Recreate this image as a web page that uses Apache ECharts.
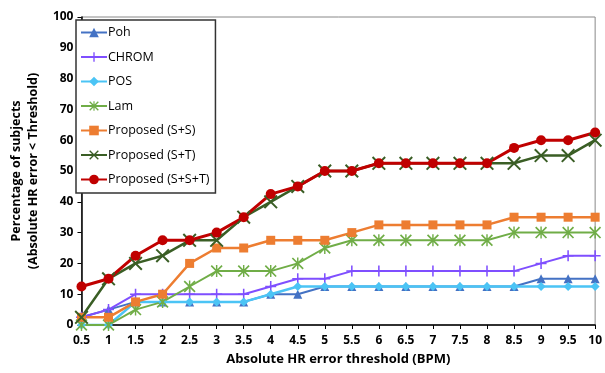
<!DOCTYPE html>
<html>
<head>
<meta charset="utf-8">
<script src="https://cdn.jsdelivr.net/npm/echarts@6/dist/echarts.min.js"></script>
<style>
  html, body { margin: 0; padding: 0; background: #fff; }
  #chart { width: 605px; height: 373px; }
</style>
</head>
<body>
<div id="chart"></div>
<script>
// thresholds (BPM)
const thresholds = ['0.5', '1', '1.5', '2', '2.5', '3', '3.5', '4', '4.5', '5',
  '5.5', '6', '6.5', '7', '7.5', '8', '8.5', '9', '9.5', '10'];

// percentage of subjects per method
const poh = [2.5, 5, 7.5, 7.5, 7.5, 7.5, 7.5, 10, 10, 12.5, 12.5, 12.5, 12.5, 12.5, 12.5, 12.5, 12.5, 15, 15, 15];
const chrom = [2.5, 5, 10, 10, 10, 10, 10, 12.5, 15, 15, 17.5, 17.5, 17.5, 17.5, 17.5, 17.5, 17.5, 20, 22.5, 22.5];
const pos = [0, 0, 7.5, 7.5, 7.5, 7.5, 7.5, 10, 12.5, 12.5, 12.5, 12.5, 12.5, 12.5, 12.5, 12.5, 12.5, 12.5, 12.5, 12.5];
const lam = [0, 0, 5, 7.5, 12.5, 17.5, 17.5, 17.5, 20, 25, 27.5, 27.5, 27.5, 27.5, 27.5, 27.5, 30, 30, 30, 30];
const propSS = [2.5, 2.5, 7.5, 10, 20, 25, 25, 27.5, 27.5, 27.5, 30, 32.5, 32.5, 32.5, 32.5, 32.5, 35, 35, 35, 35];
const propST = [2.5, 15, 20, 22.5, 27.5, 27.5, 35, 40, 45, 50, 50, 52.5, 52.5, 52.5, 52.5, 52.5, 52.5, 55, 55, 60];
const propSST = [12.5, 15, 22.5, 27.5, 27.5, 30, 35, 42.5, 45, 50, 50, 52.5, 52.5, 52.5, 52.5, 52.5, 57.5, 60, 60, 62.5];

// marker shapes drawn as filled thin bars
const plusPath = 'path://M4.3,0H5.7V10H4.3Z M0,4.3H10V5.7H0Z';
const crossPath = 'path://M0,1L1,0L10,9L9,10Z M9,0L10,1L1,10L0,9Z';
const starPath = 'path://M4.4,0H5.6V10H4.4Z M0,1L1,0L10,9L9,10Z M9,0L10,1L1,10L0,9Z';

const font = 'Open Sans, Liberation Sans, sans-serif';

function mkSeries(name, data, color, symbol, size, width) {
  return {
    name: name,
    type: 'line',
    data: data,
    symbol: symbol,
    symbolSize: size,
    showAllSymbol: true,
    lineStyle: { color: color, width: width },
    itemStyle: { color: color },
    emphasis: { disabled: true }
  };
}

const myChart = echarts.init(document.getElementById('chart'));
myChart.setOption({
  animation: false,
  grid: {
    left: 71,
    right: 7,
    top: 17,
    bottom: 48,
    show: true,
    borderColor: '#888',
    borderWidth: 1
  },
  legend: {
    orient: 'vertical',
    left: 76,
    top: 20,
    padding: [6, 6, 7, 4],
    itemGap: 11.5,
    itemWidth: 26,
    itemHeight: 12,
    borderColor: '#333',
    borderWidth: 1.5,
    backgroundColor: '#fff',
    textStyle: { fontFamily: font, fontSize: 12.5, color: '#000', padding: [0, 0, 0, -4] },
    data: ['Poh', 'CHROM', 'POS', 'Lam', 'Proposed (S+S)', 'Proposed (S+T)', 'Proposed (S+S+T)']
  },
  xAxis: {
    type: 'category',
    boundaryGap: false,
    data: thresholds,
    name: 'Absolute HR error threshold (BPM)',
    nameLocation: 'middle',
    nameGap: 28,
    nameTextStyle: { fontFamily: font, fontSize: 13, fontWeight: 'bold', color: '#000' },
    axisLine: { lineStyle: { color: '#000', width: 1.5 } },
    axisTick: { show: true, alignWithLabel: true, length: 4, lineStyle: { color: '#000' } },
    axisLabel: { fontFamily: font, fontSize: 12, fontWeight: 'bold', color: '#000', margin: 10, interval: 0 },
    splitLine: { show: false }
  },
  yAxis: {
    type: 'value',
    min: 0,
    max: 100,
    interval: 10,
    name: 'Percentage of subjects\n(Absolute HR error < Threshold)',
    nameLocation: 'middle',
    nameRotate: 90,
    nameGap: 33,
    nameTextStyle: { fontFamily: font, fontSize: 12.5, fontWeight: 'bold', color: '#000', lineHeight: 17 },
    axisLine: { show: true, lineStyle: { color: '#000', width: 1.5 } },
    axisTick: { show: true, length: 4, lineStyle: { color: '#000' } },
    axisLabel: { fontFamily: font, fontSize: 12, fontWeight: 'bold', color: '#000', margin: 8 },
    splitLine: { show: false }
  },
  series: [
    mkSeries('Poh', poh, '#4472C4', 'triangle', 9, 2),
    mkSeries('CHROM', chrom, '#7F4FFF', plusPath, 11, 2),
    mkSeries('POS', pos, '#4BC4F5', 'diamond', 9, 2.5),
    mkSeries('Lam', lam, '#70AD47', starPath, 12, 2),
    mkSeries('Proposed (S+S)', propSS, '#ED7D31', 'rect', 9, 2.5),
    mkSeries('Proposed (S+T)', propST, '#3A5E25', crossPath, 14, 2.5),
    mkSeries('Proposed (S+S+T)', propSST, '#C00000', 'circle', 10, 3)
  ]
});
</script>
</body>
</html>
